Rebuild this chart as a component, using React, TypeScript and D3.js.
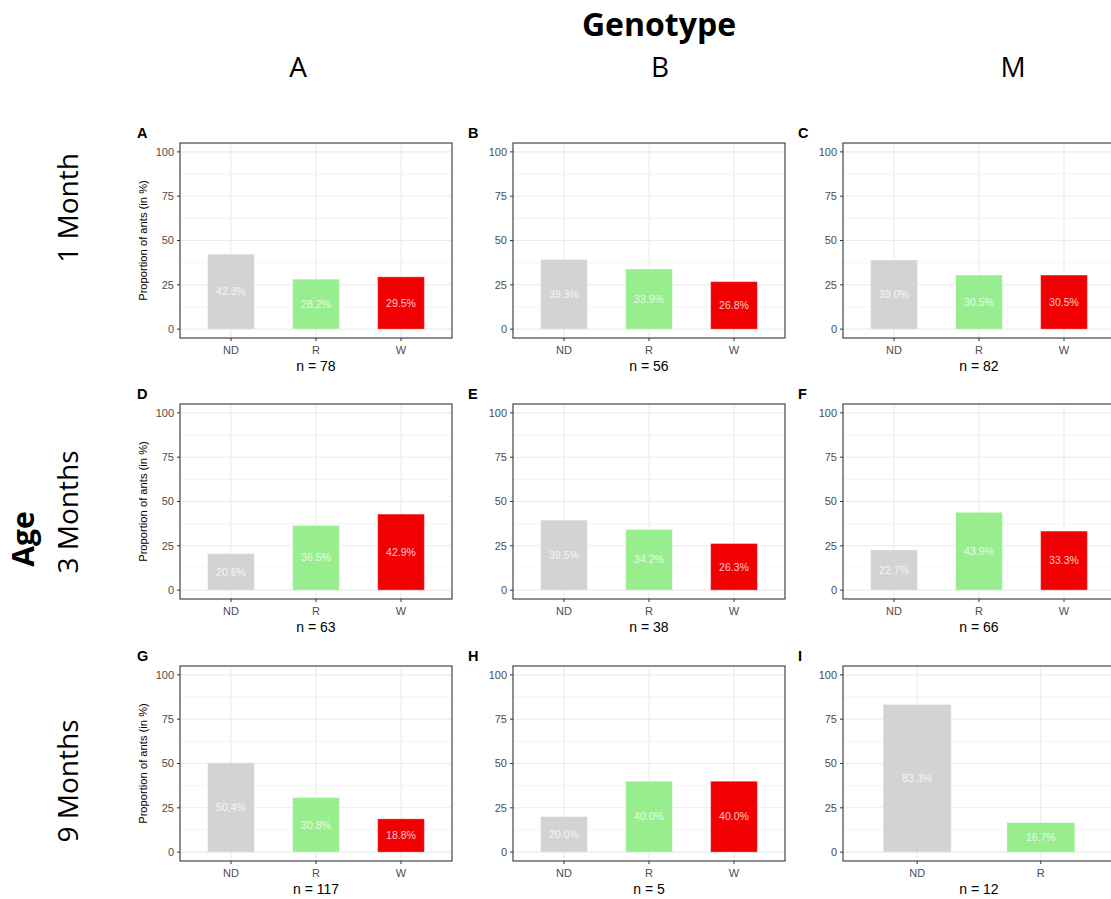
import React from "react";
import * as d3 from "d3";

const genotypes = ["A", "B", "M"];
const ages = ["1 Month", "3 Months", "9 Months"];
const panelTags = ["A", "B", "C", "D", "E", "F", "G", "H", "I"];
const categories = ["ND", "R", "W"];
const ndValues = [42.3, 39.3, 39.0, 20.6, 39.5, 22.7, 50.4, 20.0, 83.3];
const rValues = [28.2, 33.9, 30.5, 36.5, 34.2, 43.9, 30.8, 40.0, 16.7];
const wValues: (number | null)[] = [29.5, 26.8, 30.5, 42.9, 26.3, 33.3, 18.8, 40.0, null];
const nValues = [78, 56, 82, 63, 38, 66, 117, 5, 12];
const yTicks = [0, 25, 50, 75, 100];
const yMinor = [12.5, 37.5, 62.5, 87.5];
const barColors: Record<string, string> = { ND: "#D3D3D3", R: "#98EE8E", W: "#F00000" };

const W = 1111;
const H = 899;
const colBoxLeft = [180, 513, 843];
const boxWidth = 272;
const rowBoxTop = [143, 404, 666];
const boxHeight = 195;
const tagX = [137, 468, 798];
const GG = "'Liberation Sans', Arial, sans-serif";
const CAL = "'Open Sans', 'Noto Sans', sans-serif";

function Panel({ idx }: { idx: number }) {
  const row = Math.floor(idx / 3);
  const col = idx % 3;
  const x0 = colBoxLeft[col];
  const y0 = rowBoxTop[row];
  const vals = [ndValues[idx], rValues[idx], wValues[idx]];
  const data = categories
    .map((c, i) => ({ cat: c, v: vals[i] }))
    .filter((d) => d.v !== null) as { cat: string; v: number }[];
  const cats = data.map((d) => d.cat);
  const x = d3.scalePoint<string>().domain(cats).range([x0, x0 + boxWidth]).padding(0.6);
  const step = x.step();
  const bw = step * 0.55;
  const y = d3.scaleLinear().domain([-5, 105]).range([y0 + boxHeight, y0]);
  const bottom = y0 + boxHeight;
  return (
    <g>
      <rect x={x0} y={y0} width={boxWidth} height={boxHeight} fill="white" />
      {yMinor.map((t) => (
        <line key={"mn" + t} x1={x0} x2={x0 + boxWidth} y1={y(t)} y2={y(t)} stroke="#EBEBEB" strokeWidth={0.6} />
      ))}
      {yTicks.map((t) => (
        <line key={"mj" + t} x1={x0} x2={x0 + boxWidth} y1={y(t)} y2={y(t)} stroke="#EBEBEB" strokeWidth={1.1} />
      ))}
      {cats.map((c) => (
        <line key={"vx" + c} x1={x(c)!} x2={x(c)!} y1={y0} y2={bottom} stroke="#EBEBEB" strokeWidth={1.1} />
      ))}
      {data.map((d) => (
        <rect
          key={"b" + d.cat}
          x={x(d.cat)! - bw / 2}
          y={y(d.v)}
          width={bw}
          height={y(0) - y(d.v)}
          fill={barColors[d.cat]}
          stroke="white"
          strokeOpacity={0.35}
          strokeWidth={1}
        />
      ))}
      {data.map((d) => (
        <text
          key={"l" + d.cat}
          x={x(d.cat)!}
          y={y(d.v / 2)}
          dy="0.35em"
          textAnchor="middle"
          fontFamily={GG}
          fontSize={10.5}
          fill="white"
          fillOpacity={0.8}
        >
          {d.v.toFixed(1) + "%"}
        </text>
      ))}
      <rect x={x0} y={y0} width={boxWidth} height={boxHeight} fill="none" stroke="#333333" strokeWidth={1.1} />
      {yTicks.map((t) => (
        <g key={"yt" + t}>
          <line x1={x0 - 3} x2={x0} y1={y(t)} y2={y(t)} stroke="#333333" strokeWidth={1} />
          <text x={x0 - 6} y={y(t)} dy="0.35em" textAnchor="end" fontFamily={GG} fontSize={11} fill="#4D4D4D">
            {t}
          </text>
        </g>
      ))}
      {cats.map((c) => (
        <g key={"xt" + c}>
          <line x1={x(c)!} x2={x(c)!} y1={bottom} y2={bottom + 3} stroke="#333333" strokeWidth={1} />
          <text x={x(c)!} y={bottom + 15.5} textAnchor="middle" fontFamily={GG} fontSize={11} fill="#4D4D4D">
            {c}
          </text>
        </g>
      ))}
      <text x={x0 + boxWidth / 2} y={bottom + 32.5} textAnchor="middle" fontFamily={GG} fontSize={14} fill="black">
        {"n = " + nValues[idx]}
      </text>
      {col === 0 && (
        <text
          transform={`translate(147, ${y0 + boxHeight / 2}) rotate(-90)`}
          textAnchor="middle"
          fontFamily={GG}
          fontSize={11.2}
          fill="black"
        >
          Proportion of ants (in %)
        </text>
      )}
      <text x={tagX[col]} y={y0 - 5} fontFamily={GG} fontSize={14.5} fontWeight="bold" fill="black">
        {panelTags[idx]}
      </text>
    </g>
  );
}

const headerX = [298, 660, 1013];
const rowLabelY = [208, 512, 781];

export default function App() {
  return (
    <div style={{ position: "absolute", left: 0, top: 0 }}>
      <svg width={W} height={H} style={{ display: "block", background: "white" }}>
        <rect x={0} y={0} width={W} height={H} fill="white" />
        <text x={659} y={36} textAnchor="middle" fontFamily={CAL} fontWeight="bold" fontSize={32} fill="black">
          Genotype
        </text>
        {genotypes.map((g, i) => (
          <text key={g} x={headerX[i]} y={77} textAnchor="middle" fontFamily={CAL} fontSize={28} fill="black">
            {g}
          </text>
        ))}
        {ages.map((a, i) => (
          <text
            key={a}
            transform={`translate(78, ${rowLabelY[i]}) rotate(-90)`}
            textAnchor="middle"
            fontFamily={CAL}
            fontSize={28}
            fill="black"
          >
            {a}
          </text>
        ))}
        <text
          transform={`translate(34, 539) rotate(-90)`}
          textAnchor="middle"
          fontFamily={CAL}
          fontWeight="bold"
          fontSize={30}
          fill="black"
        >
          Age
        </text>
        {panelTags.map((t, i) => (
          <Panel key={t} idx={i} />
        ))}
      </svg>
    </div>
  );
}
